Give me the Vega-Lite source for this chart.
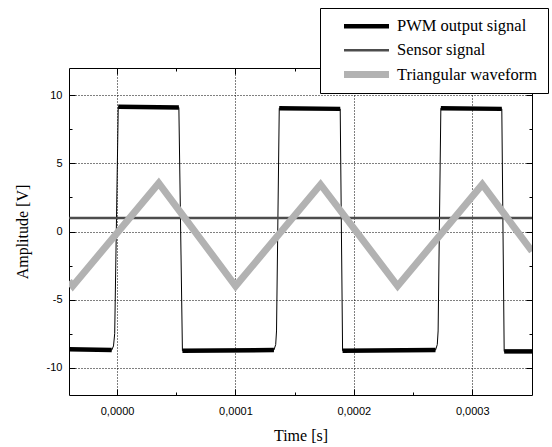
{
  "$schema": "https://vega.github.io/schema/vega-lite/v6.json",
  "width": 463,
  "height": 327,
  "autosize": {"type": "none"},
  "padding": {"left": 69, "top": 68, "right": 20, "bottom": 52},
  "background": "white",
  "config": {
    "view": {"stroke": null},
    "axis": {
      "domainColor": "black",
      "domainWidth": 1,
      "tickColor": "black",
      "tickWidth": 1,
      "labelFont": "Liberation Sans",
      "labelFontSize": 11,
      "labelColor": "black",
      "titleFont": "Liberation Serif",
      "titleFontSize": 16,
      "titleFontWeight": "normal",
      "titleColor": "black",
      "labelOverlap": false,
      "labelFlush": false
    },
    "legend": {
      "orient": "none",
      "legendX": 251,
      "legendY": -60,
      "title": null,
      "symbolType": "M-4.5,0H4.5",
      "symbolSize": 100,
      "labelFont": "Liberation Serif",
      "labelFontSize": 16.5,
      "labelColor": "black",
      "strokeColor": "black",
      "fillColor": "white",
      "padding": 10,
      "symbolOffset": 28,
      "labelOffset": 22,
      "rowPadding": 7,
      "labelLimit": 300
    }
  },
  "data": {
    "values": [
      {"t": -0.0000406, "v": -8.65, "s": "PWM output signal", "seg": "L0"},
      {"t": -0.0000045, "v": -8.7, "s": "PWM output signal", "seg": "L0"},
      {"t": -0.000003, "v": -8.4, "s": "PWM output signal", "seg": "E"},
      {"t": -0.000002, "v": -7.5, "s": "PWM output signal", "seg": "E"},
      {"t": 0.000001, "v": 9.15, "s": "PWM output signal", "seg": "H1"},
      {"t": 0.0000522, "v": 9.1, "s": "PWM output signal", "seg": "H1"},
      {"t": 0.0000552, "v": -8.75, "s": "PWM output signal", "seg": "L1"},
      {"t": 0.0001325, "v": -8.7, "s": "PWM output signal", "seg": "L1"},
      {"t": 0.000134, "v": -8.3, "s": "PWM output signal", "seg": "E"},
      {"t": 0.0001347, "v": -7.3, "s": "PWM output signal", "seg": "E"},
      {"t": 0.000137, "v": 9.05, "s": "PWM output signal", "seg": "H2"},
      {"t": 0.0001885, "v": 9.0, "s": "PWM output signal", "seg": "H2"},
      {"t": 0.0001905, "v": -8.75, "s": "PWM output signal", "seg": "L2"},
      {"t": 0.000269, "v": -8.7, "s": "PWM output signal", "seg": "L2"},
      {"t": 0.0002705, "v": -8.3, "s": "PWM output signal", "seg": "E"},
      {"t": 0.0002712, "v": -7.3, "s": "PWM output signal", "seg": "E"},
      {"t": 0.0002735, "v": 9.05, "s": "PWM output signal", "seg": "H3"},
      {"t": 0.000325, "v": 9.0, "s": "PWM output signal", "seg": "H3"},
      {"t": 0.000327, "v": -8.8, "s": "PWM output signal", "seg": "L3"},
      {"t": 0.0003505, "v": -8.8, "s": "PWM output signal", "seg": "L3"},
      {"t": -0.0000406, "v": 1.0, "s": "Sensor signal", "seg": "S"},
      {"t": 0.0003505, "v": 1.0, "s": "Sensor signal", "seg": "S"},
      {"t": -0.0000406, "v": -3.65, "s": "Triangular waveform", "seg": "T"},
      {"t": -0.0000374, "v": -4.0, "s": "Triangular waveform", "seg": "T"},
      {"t": 0.0000352, "v": 3.55, "s": "Triangular waveform", "seg": "T"},
      {"t": 0.0001001, "v": -4.0, "s": "Triangular waveform", "seg": "T"},
      {"t": 0.0001719, "v": 3.45, "s": "Triangular waveform", "seg": "T"},
      {"t": 0.000237, "v": -4.0, "s": "Triangular waveform", "seg": "T"},
      {"t": 0.0003085, "v": 3.45, "s": "Triangular waveform", "seg": "T"},
      {"t": 0.0003505, "v": -1.45, "s": "Triangular waveform", "seg": "T"}
    ]
  },
  "resolve": {"axis": {"x": "independent", "y": "independent"}},
  "layer": [
    {
      "transform": [{"filter": "datum.s == 'PWM output signal' && datum.seg != 'E'"}],
      "mark": {"type": "line", "clip": true},
      "encoding": {
        "x": {
          "field": "t", "type": "quantitative",
          "scale": {"domain": [-0.0000406, 0.0003505], "nice": false, "zero": false},
          "axis": {
            "orient": "bottom",
            "title": "Time [s]",
            "values": [0, 0.00005, 0.0001, 0.00015, 0.0002, 0.00025, 0.0003],
            "labelExpr": "abs(datum.value*10000 - round(datum.value*10000)) > 0.01 ? '' : replace(format(datum.value, '.4f'), '.', ',')",
            "grid": true,
            "gridColor": "black",
            "gridDash": [1, 2],
            "gridOpacity": {"condition": {"test": "abs(datum.value*10000 - round(datum.value*10000)) > 0.01", "value": 0}, "value": 1},
            "tickSize": {"condition": {"test": "abs(datum.value*10000 - round(datum.value*10000)) > 0.01", "value": -3}, "value": -6},
            "labelPadding": 16,
            "titlePadding": 8
          }
        },
        "y": {
          "field": "v", "type": "quantitative",
          "scale": {"domain": [-12, 12], "nice": false, "zero": false},
          "axis": {
            "orient": "left",
            "title": "Amplitude [V]",
            "values": [-10, -7.5, -5, -2.5, 0, 2.5, 5, 7.5, 10],
            "labelExpr": "datum.value % 5 != 0 ? '' : (datum.value < 0 ? '-' + abs(datum.value) : '' + datum.value)",
            "grid": true,
            "gridColor": "black",
            "gridDash": [1, 2],
            "gridOpacity": {"condition": {"test": "datum.value % 5 != 0", "value": 0}, "value": 1},
            "tickSize": {"condition": {"test": "datum.value % 5 != 0", "value": -3}, "value": -6},
            "labelPadding": 13,
            "titlePadding": 16
          }
        },
        "detail": {"field": "seg"},
        "color": {
          "field": "s", "type": "nominal",
          "scale": {"domain": ["PWM output signal", "Sensor signal", "Triangular waveform"], "range": ["#000000", "#4d4d4d", "#b2b2b2"]},
          "legend": {"encode": {"symbols": {"update": {"strokeJoin": {"value": "bevel"}, "strokeCap": {"value": "butt"}}}}}
        },
        "strokeWidth": {
          "field": "s", "type": "nominal",
          "scale": {"type": "ordinal", "domain": ["PWM output signal", "Sensor signal", "Triangular waveform"], "range": [4.5, 2.5, 7]}
        }
      }
    },
    {
      "transform": [{"filter": "datum.s == 'PWM output signal'"}],
      "mark": {"type": "line", "clip": true, "color": "black", "strokeWidth": 1},
      "encoding": {
        "x": {
          "field": "t", "type": "quantitative",
          "scale": {"domain": [-0.0000406, 0.0003505], "nice": false, "zero": false},
          "axis": {
            "orient": "top",
            "title": null,
            "labels": false,
            "grid": false,
            "values": [0, 0.00005, 0.0001, 0.00015, 0.0002, 0.00025, 0.0003],
            "tickSize": {"condition": {"test": "abs(datum.value*10000 - round(datum.value*10000)) > 0.01", "value": -3}, "value": -6}
          }
        },
        "y": {
          "field": "v", "type": "quantitative",
          "scale": {"domain": [-12, 12], "nice": false, "zero": false},
          "axis": {
            "orient": "right",
            "title": null,
            "labels": false,
            "grid": false,
            "values": [-10, -7.5, -5, -2.5, 0, 2.5, 5, 7.5, 10],
            "tickSize": {"condition": {"test": "datum.value % 5 != 0", "value": -3}, "value": -6}
          }
        },
        "order": {"field": "t", "type": "quantitative"}
      }
    },
    {
      "transform": [{"filter": "datum.s == 'Sensor signal'"}],
      "mark": {"type": "line", "clip": true},
      "encoding": {
        "x": {"field": "t", "type": "quantitative", "axis": null},
        "y": {"field": "v", "type": "quantitative", "axis": null},
        "color": {"field": "s", "type": "nominal"},
        "strokeWidth": {"field": "s", "type": "nominal", "scale": {"type": "ordinal"}}
      }
    },
    {
      "transform": [{"filter": "datum.s == 'Triangular waveform'"}],
      "mark": {"type": "line", "clip": true},
      "encoding": {
        "x": {"field": "t", "type": "quantitative", "axis": null},
        "y": {"field": "v", "type": "quantitative", "axis": null},
        "color": {"field": "s", "type": "nominal"},
        "strokeWidth": {"field": "s", "type": "nominal", "scale": {"type": "ordinal"}}
      }
    }
  ]
}
